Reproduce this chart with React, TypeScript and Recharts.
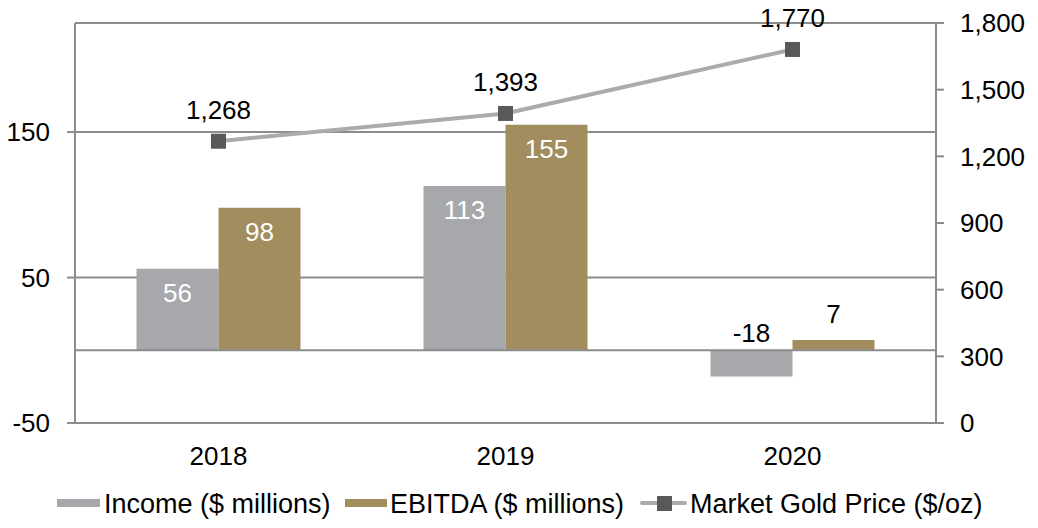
import React from 'react';
import {
  ComposedChart,
  Bar,
  Line,
  XAxis,
  YAxis,
  CartesianGrid,
  ReferenceLine,
  LabelList,
} from 'recharts';

const years = ['2018', '2019', '2020'];
const income = [56, 113, -18];
const ebitda = [98, 155, 7];
// marker heights as drawn on the right axis; labels carry the printed prices
const goldPrice = [1268, 1393, 1681];
const goldLabels = ['1,268', '1,393', '1,770'];
const leftTicks = [-50, 50, 150];
const rightTicks = [0, 300, 600, 900, 1200, 1500, 1800];

const GREY = '#A7A8AB';
const GOLD = '#A18D5D';
const LINE = '#ABABAB';
const MARKER = '#58595B';
const AXIS = '#8C8C8C';
const FONT = '"Liberation Sans", Arial, sans-serif';

const chartData = years.map((year, i) => ({
  year,
  income: income[i],
  ebitda: ebitda[i],
  gold: goldPrice[i],
  goldLabel: goldLabels[i],
}));

const barLabel = (props: any) => {
  const { x, y, width, height, value } = props;
  const top = Math.min(y, y + height);
  const cx = x + width / 2;
  if (Math.abs(value) >= 20) {
    return (
      <text x={cx} y={top + 33} textAnchor="middle" fill="#fff" fontSize={26} fontFamily={FONT}>
        {value}
      </text>
    );
  }
  const base = value < 0 ? top - 8 : top - 17;
  return (
    <text x={cx} y={base} textAnchor="middle" fill="#000" fontSize={26} fontFamily={FONT}>
      {value}
    </text>
  );
};

const goldLabel = (props: any) => {
  const { x, y, index } = props;
  return (
    <text x={x} y={y - 22} textAnchor="middle" fill="#000" fontSize={26} fontFamily={FONT}>
      {goldLabels[index]}
    </text>
  );
};

const SquareDot = (props: any) => {
  const { cx, cy } = props;
  if (cx == null || cy == null) return null;
  return <rect x={cx - 7.5} y={cy - 7.5} width={15} height={15} fill={MARKER} />;
};

const legendText: React.CSSProperties = {
  position: 'absolute',
  top: 491,
  fontSize: 27,
  lineHeight: '27px',
  color: '#000',
  whiteSpace: 'nowrap',
};

export default function App() {
  return (
    <div style={{ position: 'absolute', left: 0, top: 0, width: 1038, height: 528, background: '#fff', fontFamily: FONT }}>
      <ComposedChart
        width={1038}
        height={528}
        data={chartData}
        margin={{ top: 23, right: 0, bottom: 0, left: 0 }}
        barGap={0}
        barCategoryGap={61.5}
      >
        <CartesianGrid yAxisId="left" vertical={false} stroke={AXIS} strokeWidth={2} />
        <XAxis
          dataKey="year"
          height={105}
          tickLine={false}
          tickSize={0}
          tickMargin={24}
          axisLine={{ stroke: AXIS, strokeWidth: 2 }}
          tick={{ fill: '#000', fontSize: 26, fontFamily: FONT }}
        />
        <YAxis
          yAxisId="left"
          width={75}
          domain={[-50, 225]}
          ticks={leftTicks}
          tickSize={8}
          tickMargin={17}
          tickLine={{ stroke: AXIS, strokeWidth: 2 }}
          axisLine={{ stroke: AXIS, strokeWidth: 2 }}
          tick={{ fill: '#000', fontSize: 26, fontFamily: FONT }}
        />
        <YAxis
          yAxisId="right"
          orientation="right"
          width={102}
          domain={[0, 1800]}
          ticks={rightTicks}
          tickSize={8}
          tickMargin={16}
          tickFormatter={(v: number) => v.toLocaleString('en-US')}
          tickLine={{ stroke: AXIS, strokeWidth: 2 }}
          axisLine={{ stroke: AXIS, strokeWidth: 2 }}
          tick={{ fill: '#000', fontSize: 26, fontFamily: FONT }}
        />
        <Bar yAxisId="left" dataKey="income" fill={GREY} isAnimationActive={false}>
          <LabelList dataKey="income" content={barLabel} />
        </Bar>
        <Bar yAxisId="left" dataKey="ebitda" fill={GOLD} isAnimationActive={false}>
          <LabelList dataKey="ebitda" content={barLabel} />
        </Bar>
        <ReferenceLine yAxisId="left" y={0} stroke={AXIS} strokeWidth={2} />
        <Line
          yAxisId="right"
          type="linear"
          dataKey="gold"
          stroke={LINE}
          strokeWidth={4}
          dot={<SquareDot />}
          activeDot={false}
          isAnimationActive={false}
        >
          <LabelList dataKey="goldLabel" content={goldLabel} />
        </Line>
      </ComposedChart>

      {/* legend */}
      <div style={{ position: 'absolute', left: 57, top: 499, width: 43, height: 8, background: GREY }} />
      <div style={{ ...legendText, left: 104 }}>Income ($ millions)</div>
      <div style={{ position: 'absolute', left: 345, top: 499, width: 42, height: 8, background: GOLD }} />
      <div style={{ ...legendText, left: 390 }}>EBITDA ($ millions)</div>
      <div style={{ position: 'absolute', left: 640, top: 501, width: 47, height: 4, background: LINE, borderRadius: 2 }} />
      <div style={{ position: 'absolute', left: 657, top: 496, width: 15, height: 15, background: MARKER }} />
      <div style={{ ...legendText, left: 690 }}>Market Gold Price ($/oz)</div>
    </div>
  );
}
